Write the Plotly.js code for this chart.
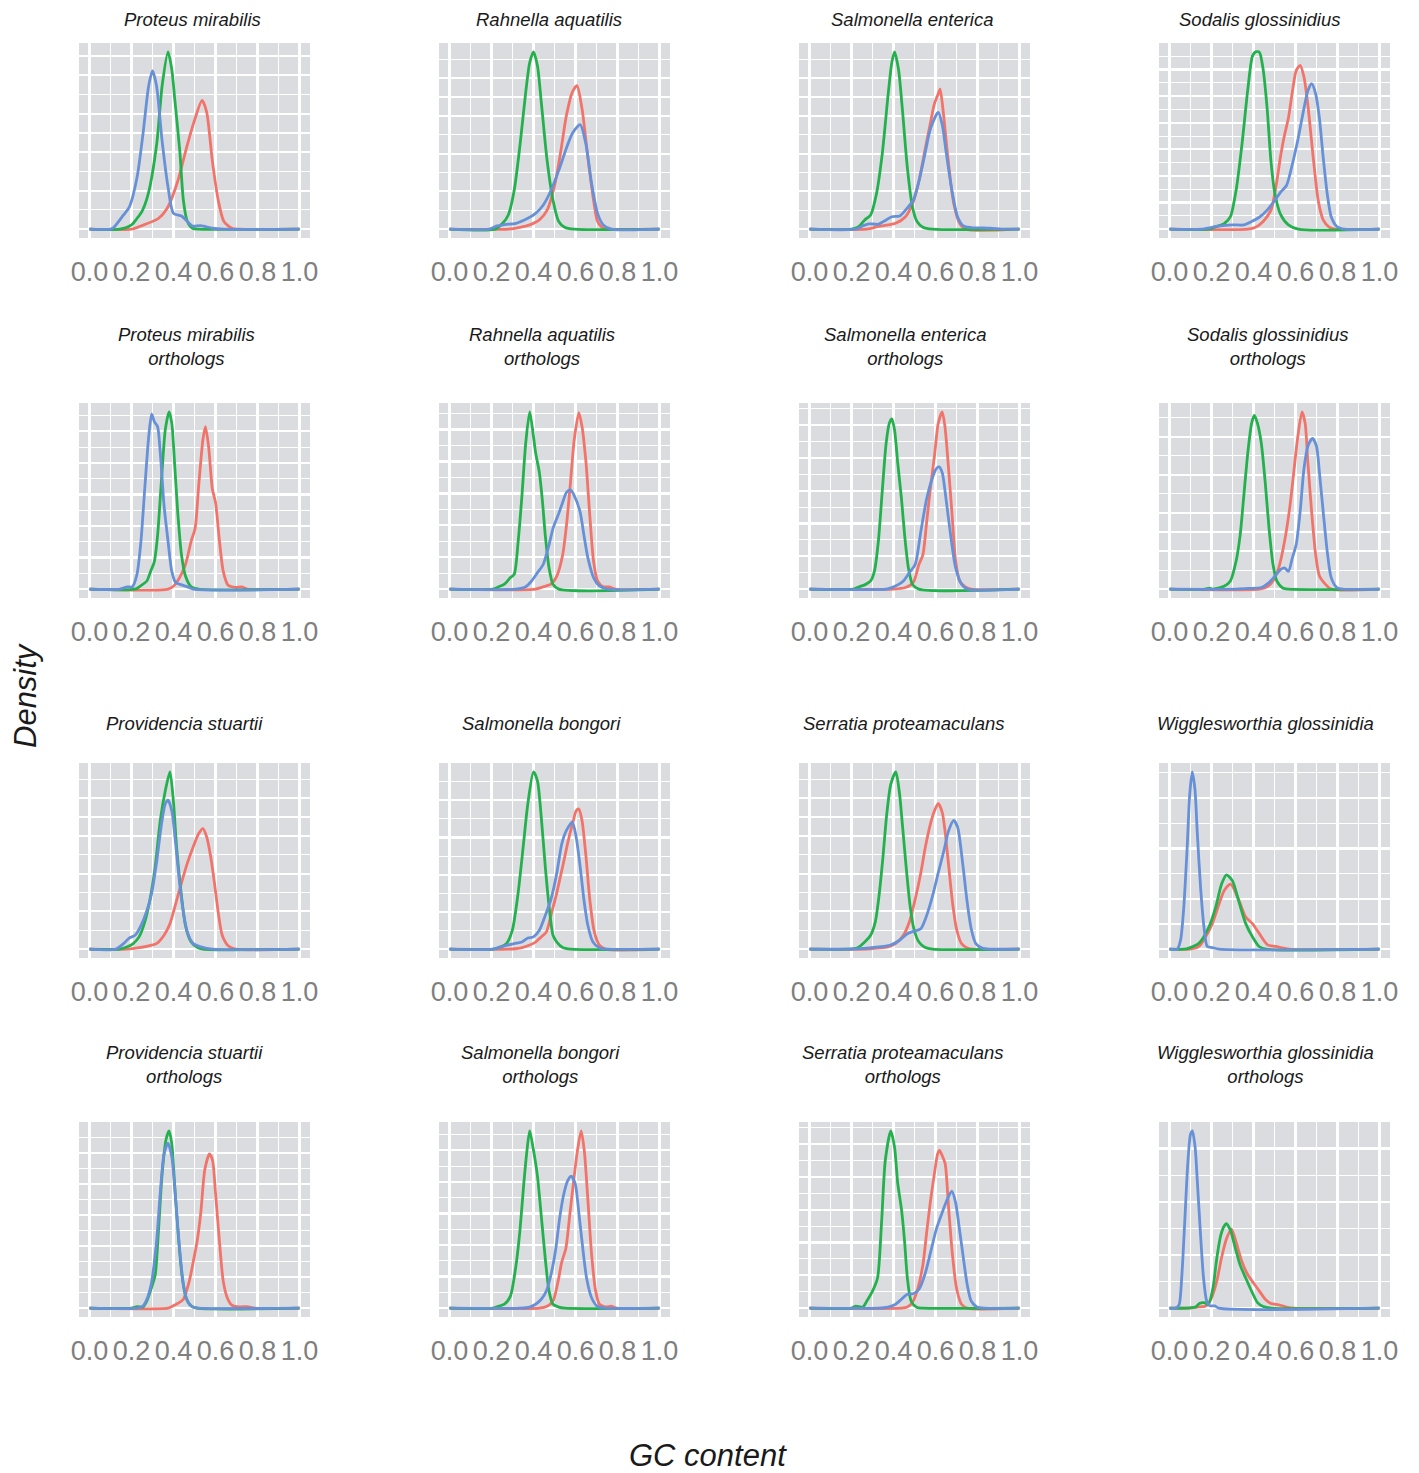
<!DOCTYPE html>
<html>
<head>
<meta charset="utf-8">
<script src="https://cdn.plot.ly/plotly-3.0.1.min.js"></script>
<style>html,body{margin:0;padding:0;background:#fff;}#chart{width:1419px;height:1473px;}</style>
</head>
<body>
<div id="chart"></div>
<script>
// ---------------- DATA ----------------
// GC content (x) vs relative density height (y, fraction of each panel's tallest peak)
const seriesNames = ['Group 1', 'Group 2', 'Group 3'];
const xTickVals = [0, 0.2, 0.4, 0.6, 0.8, 1.0];
const xTickText = ['0.0', '0.2', '0.4', '0.6', '0.8', '1.0'];

const panelTitles = [
  'Proteus mirabilis', 'Rahnella aquatilis', 'Salmonella enterica', 'Sodalis glossinidius',
  'Proteus mirabilis<br>orthologs', 'Rahnella aquatilis<br>orthologs', 'Salmonella enterica<br>orthologs', 'Sodalis glossinidius<br>orthologs',
  'Providencia stuartii', 'Salmonella bongori', 'Serratia proteamaculans', 'Wigglesworthia glossinidia',
  'Providencia stuartii<br>orthologs', 'Salmonella bongori<br>orthologs', 'Serratia proteamaculans<br>orthologs', 'Wigglesworthia glossinidia<br>orthologs'
];

// Proteus mirabilis
const pm_r = [[0,0],[0.2,0],[0.245,0.018],[0.328,0.06],[0.374,0.126],[0.42,0.27],[0.466,0.477],[0.503,0.625],[0.536,0.726],[0.558,0.66],[0.585,0.385],[0.613,0.163],[0.64,0.043],[0.678,0.005],[0.715,0],[1,0]];
const pm_g = [[0,0],[0.144,0],[0.2,0.024],[0.226,0.06],[0.25,0.1],[0.28,0.2],[0.32,0.48],[0.346,0.81],[0.374,1],[0.392,0.9],[0.405,0.745],[0.43,0.44],[0.447,0.163],[0.466,0.043],[0.49,0.005],[0.52,0],[1,0]];
const pm_b = [[0,0],[0.1,0],[0.116,0.01],[0.162,0.08],[0.19,0.126],[0.226,0.29],[0.254,0.53],[0.282,0.81],[0.3,0.893],[0.319,0.81],[0.346,0.495],[0.374,0.237],[0.4,0.089],[0.438,0.074],[0.466,0.043],[0.49,0.018],[0.53,0.02],[0.585,0.005],[0.64,0],[1,0]];
// Rahnella aquatilis
const ra_r = [[0,0],[0.28,0],[0.336,0.01],[0.382,0.024],[0.428,0.052],[0.465,0.107],[0.502,0.255],[0.53,0.44],[0.557,0.643],[0.585,0.773],[0.607,0.81],[0.631,0.68],[0.659,0.403],[0.686,0.163],[0.705,0.043],[0.732,0.005],[0.76,0],[1,0]];
const ra_g = [[0,0],[0.216,0],[0.253,0.033],[0.28,0.08],[0.308,0.218],[0.336,0.477],[0.363,0.773],[0.382,0.94],[0.4,1],[0.419,0.92],[0.437,0.717],[0.465,0.385],[0.493,0.163],[0.52,0.043],[0.548,0.011],[0.594,0],[1,0]];
const ra_b = [[0,0],[0.188,0],[0.225,0.018],[0.262,0.026],[0.317,0.033],[0.373,0.061],[0.41,0.089],[0.446,0.135],[0.483,0.218],[0.52,0.33],[0.557,0.458],[0.585,0.54],[0.622,0.59],[0.65,0.477],[0.677,0.255],[0.705,0.089],[0.732,0.024],[0.77,0],[1,0]];
// Salmonella enterica
const se_r = [[0,0],[0.273,0],[0.328,0.015],[0.374,0.024],[0.41,0.033],[0.457,0.07],[0.494,0.153],[0.521,0.27],[0.549,0.44],[0.577,0.606],[0.595,0.708],[0.613,0.763],[0.622,0.79],[0.637,0.66],[0.659,0.403],[0.687,0.144],[0.715,0.033],[0.742,0],[1,0]];
const se_g = [[0,0],[0.2,0],[0.236,0.015],[0.263,0.052],[0.291,0.08],[0.319,0.2],[0.346,0.42],[0.374,0.754],[0.392,0.94],[0.405,1],[0.424,0.9],[0.442,0.68],[0.466,0.347],[0.49,0.126],[0.512,0.043],[0.54,0.011],[0.586,0],[1,0]];
const se_b = [[0,0],[0.217,0],[0.254,0.018],[0.282,0.03],[0.328,0.028],[0.365,0.052],[0.392,0.07],[0.429,0.074],[0.457,0.107],[0.494,0.163],[0.521,0.27],[0.549,0.42],[0.577,0.57],[0.613,0.658],[0.632,0.59],[0.65,0.44],[0.678,0.218],[0.705,0.07],[0.733,0.018],[0.77,0.009],[0.807,0.007],[0.862,0.005],[0.917,0],[1,0]];
// Sodalis glossinidius
const sg_r = [[0,0],[0.373,0],[0.41,0.011],[0.446,0.043],[0.483,0.107],[0.511,0.27],[0.53,0.42],[0.548,0.532],[0.566,0.625],[0.585,0.773],[0.603,0.893],[0.622,0.924],[0.64,0.86],[0.659,0.7],[0.686,0.385],[0.708,0.163],[0.732,0.052],[0.76,0.011],[0.788,0],[1,0]];
const sg_g = [[0,0],[0.188,0],[0.225,0.015],[0.262,0.033],[0.29,0.07],[0.317,0.218],[0.345,0.477],[0.373,0.79],[0.395,0.976],[0.41,1],[0.428,0.998],[0.446,0.9],[0.465,0.68],[0.483,0.385],[0.502,0.2],[0.53,0.08],[0.566,0.024],[0.613,0],[1,0]];
const sg_b = [[0,0],[0.151,0],[0.225,0.015],[0.3,0.024],[0.354,0.024],[0.391,0.043],[0.428,0.067],[0.465,0.107],[0.502,0.163],[0.53,0.21],[0.557,0.246],[0.585,0.366],[0.613,0.514],[0.64,0.68],[0.659,0.78],[0.677,0.82],[0.696,0.763],[0.714,0.625],[0.732,0.403],[0.751,0.2],[0.77,0.07],[0.797,0.015],[0.834,0],[1,0]];
// Proteus mirabilis orthologs
const pmo_r = [[0,0],[0.374,0],[0.401,0.018],[0.429,0.065],[0.457,0.139],[0.484,0.27],[0.503,0.343],[0.52,0.583],[0.54,0.843],[0.552,0.917],[0.567,0.806],[0.585,0.565],[0.6,0.49],[0.619,0.27],[0.637,0.1],[0.66,0.022],[0.696,0.01],[0.724,0.013],[0.751,0],[1,0]];
const pmo_g = [[0,0],[0.217,0],[0.245,0.02],[0.273,0.046],[0.291,0.1],[0.309,0.157],[0.324,0.3],[0.343,0.62],[0.361,0.9],[0.379,1],[0.392,0.935],[0.405,0.713],[0.42,0.435],[0.438,0.194],[0.457,0.074],[0.484,0.013],[0.52,0],[1,0]];
const pmo_b = [[0,0],[0.144,0],[0.18,0.013],[0.204,0.013],[0.226,0.083],[0.245,0.27],[0.263,0.565],[0.282,0.86],[0.296,0.987],[0.309,0.944],[0.324,0.917],[0.337,0.77],[0.355,0.472],[0.374,0.27],[0.392,0.1],[0.41,0.037],[0.438,0.024],[0.466,0.013],[0.494,0],[1,0]];
// Rahnella aquatilis orthologs
const rao_r = [[0,0],[0.41,0],[0.446,0.013],[0.483,0.028],[0.511,0.074],[0.539,0.194],[0.557,0.36],[0.576,0.6],[0.594,0.843],[0.616,0.996],[0.631,0.917],[0.65,0.713],[0.668,0.417],[0.686,0.157],[0.705,0.046],[0.732,0.013],[0.76,0.013],[0.788,0],[1,0]];
const rao_g = [[0,0],[0.207,0],[0.234,0.013],[0.262,0.028],[0.29,0.065],[0.308,0.083],[0.327,0.27],[0.345,0.528],[0.363,0.824],[0.382,1],[0.4,0.86],[0.41,0.77],[0.428,0.657],[0.443,0.49],[0.456,0.305],[0.474,0.12],[0.493,0.028],[0.52,0],[1,0]];
const rao_b = [[0,0],[0.317,0],[0.363,0.013],[0.391,0.046],[0.419,0.093],[0.446,0.139],[0.474,0.25],[0.493,0.343],[0.52,0.426],[0.539,0.49],[0.557,0.546],[0.576,0.56],[0.594,0.528],[0.622,0.435],[0.64,0.305],[0.659,0.176],[0.686,0.065],[0.714,0.018],[0.751,0],[1,0]];
// Salmonella enterica orthologs
const seo_r = [[0,0],[0.401,0],[0.457,0.009],[0.494,0.037],[0.521,0.139],[0.54,0.194],[0.558,0.38],[0.577,0.583],[0.595,0.75],[0.613,0.935],[0.632,1],[0.645,0.917],[0.66,0.713],[0.678,0.435],[0.696,0.157],[0.715,0.046],[0.742,0.013],[0.77,0],[1,0]];
const seo_g = [[0,0],[0.208,0],[0.236,0.013],[0.263,0.024],[0.291,0.046],[0.309,0.1],[0.328,0.27],[0.346,0.546],[0.365,0.824],[0.38,0.935],[0.392,0.96],[0.405,0.898],[0.42,0.713],[0.438,0.51],[0.453,0.305],[0.471,0.12],[0.49,0.028],[0.52,0],[1,0]];
const seo_b = [[0,0],[0.365,0],[0.392,0.009],[0.42,0.024],[0.447,0.046],[0.475,0.093],[0.503,0.139],[0.53,0.324],[0.558,0.51],[0.586,0.63],[0.604,0.68],[0.617,0.69],[0.632,0.657],[0.65,0.51],[0.674,0.287],[0.696,0.12],[0.724,0.028],[0.751,0],[1,0]];
// Sodalis glossinidius orthologs
const sgo_r = [[0,0],[0.428,0],[0.465,0.013],[0.493,0.046],[0.52,0.12],[0.548,0.27],[0.572,0.454],[0.59,0.639],[0.609,0.843],[0.631,1],[0.646,0.935],[0.659,0.713],[0.677,0.435],[0.696,0.194],[0.714,0.074],[0.742,0.028],[0.77,0],[1,0]];
const sgo_g = [[0,0],[0.17,0],[0.188,0.006],[0.205,0],[0.225,0.004],[0.262,0.018],[0.29,0.046],[0.317,0.157],[0.336,0.3],[0.354,0.528],[0.373,0.77],[0.391,0.935],[0.404,0.98],[0.419,0.935],[0.437,0.824],[0.456,0.6],[0.474,0.343],[0.493,0.139],[0.511,0.046],[0.539,0.006],[0.566,0],[1,0]];
const sgo_b = [[0,0],[0.317,0],[0.373,0.004],[0.437,0.009],[0.474,0.037],[0.502,0.074],[0.53,0.111],[0.548,0.12],[0.566,0.1],[0.585,0.176],[0.603,0.25],[0.622,0.435],[0.64,0.676],[0.659,0.806],[0.681,0.85],[0.7,0.806],[0.714,0.657],[0.732,0.435],[0.751,0.213],[0.77,0.065],[0.797,0.009],[0.825,0],[1,0]];
// Providencia stuartii
const ps_r = [[0,0],[0.18,0],[0.236,0.008],[0.282,0.019],[0.319,0.031],[0.355,0.078],[0.383,0.143],[0.41,0.254],[0.438,0.374],[0.466,0.485],[0.494,0.578],[0.52,0.652],[0.54,0.68],[0.558,0.633],[0.577,0.522],[0.595,0.374],[0.613,0.207],[0.632,0.078],[0.66,0.019],[0.696,0],[1,0]];
const ps_g = [[0,0],[0.144,0],[0.18,0.013],[0.208,0.031],[0.236,0.069],[0.263,0.152],[0.291,0.3],[0.313,0.467],[0.337,0.726],[0.361,0.893],[0.383,1],[0.398,0.856],[0.416,0.56],[0.438,0.3],[0.457,0.133],[0.484,0.04],[0.512,0.011],[0.54,0],[1,0]];
const ps_b = [[0,0],[0.125,0],[0.162,0.031],[0.19,0.063],[0.217,0.078],[0.245,0.133],[0.273,0.217],[0.295,0.31],[0.319,0.485],[0.343,0.707],[0.361,0.82],[0.374,0.84],[0.392,0.78],[0.41,0.596],[0.429,0.374],[0.447,0.207],[0.466,0.096],[0.494,0.031],[0.53,0.013],[0.586,0],[1,0]];
// Salmonella bongori
const sb_r = [[0,0],[0.28,0],[0.336,0.006],[0.373,0.019],[0.41,0.04],[0.437,0.069],[0.461,0.096],[0.483,0.19],[0.511,0.319],[0.539,0.467],[0.566,0.615],[0.59,0.726],[0.603,0.78],[0.616,0.79],[0.631,0.726],[0.65,0.522],[0.668,0.28],[0.69,0.096],[0.714,0.022],[0.742,0],[1,0]];
const sb_g = [[0,0],[0.207,0],[0.244,0.013],[0.271,0.031],[0.299,0.106],[0.327,0.319],[0.351,0.578],[0.373,0.82],[0.4,1],[0.419,0.948],[0.437,0.744],[0.456,0.467],[0.474,0.244],[0.493,0.078],[0.511,0.04],[0.539,0.009],[0.576,0],[1,0]];
const sb_b = [[0,0],[0.207,0],[0.262,0.019],[0.308,0.031],[0.345,0.04],[0.373,0.063],[0.4,0.069],[0.428,0.106],[0.456,0.19],[0.483,0.28],[0.511,0.43],[0.535,0.596],[0.557,0.67],[0.585,0.717],[0.603,0.633],[0.622,0.467],[0.64,0.28],[0.659,0.133],[0.683,0.04],[0.714,0.007],[0.751,0],[1,0]];
// Serratia proteamaculans
const sp_r = [[0,0],[0.273,0],[0.328,0.006],[0.374,0.013],[0.41,0.031],[0.447,0.078],[0.475,0.152],[0.503,0.28],[0.53,0.43],[0.552,0.578],[0.576,0.707],[0.595,0.78],[0.613,0.822],[0.632,0.772],[0.645,0.67],[0.663,0.467],[0.681,0.263],[0.7,0.115],[0.724,0.031],[0.751,0.007],[0.779,0],[1,0]];
const sp_g = [[0,0],[0.18,0],[0.227,0.006],[0.263,0.04],[0.291,0.078],[0.313,0.152],[0.331,0.3],[0.35,0.522],[0.368,0.763],[0.387,0.93],[0.411,1],[0.429,0.874],[0.442,0.707],[0.46,0.467],[0.479,0.244],[0.497,0.115],[0.521,0.04],[0.549,0.011],[0.586,0],[1,0]];
const sp_b = [[0,0],[0.18,0],[0.273,0.006],[0.328,0.013],[0.383,0.022],[0.429,0.05],[0.466,0.087],[0.494,0.1],[0.53,0.115],[0.558,0.19],[0.586,0.3],[0.613,0.43],[0.641,0.56],[0.663,0.67],[0.687,0.726],[0.705,0.689],[0.714,0.633],[0.733,0.448],[0.751,0.263],[0.77,0.115],[0.792,0.031],[0.825,0.004],[0.862,0],[1,0]];
// Wigglesworthia glossinidia
const wg_r = [[0,0],[0.1,0],[0.14,0.015],[0.172,0.07],[0.204,0.144],[0.236,0.255],[0.26,0.33],[0.291,0.367],[0.331,0.274],[0.363,0.181],[0.395,0.144],[0.427,0.089],[0.467,0.024],[0.506,0.015],[0.57,0],[1,0]];
const wg_g = [[0,0],[0.07,0],[0.092,0.006],[0.14,0.033],[0.188,0.126],[0.22,0.237],[0.248,0.367],[0.271,0.419],[0.3,0.385],[0.331,0.265],[0.363,0.144],[0.395,0.07],[0.427,0.015],[0.46,0],[1,0]];
const wg_b = [[0,0],[0.037,0],[0.053,0.052],[0.068,0.237],[0.084,0.57],[0.096,0.867],[0.108,1],[0.121,0.904],[0.132,0.663],[0.148,0.348],[0.164,0.126],[0.18,0.015],[0.204,0.009],[0.236,0],[1,0]];
// Providencia stuartii orthologs
const pso_r = [[0,0],[0.374,0],[0.392,0.009],[0.42,0.026],[0.447,0.05],[0.475,0.151],[0.494,0.262],[0.512,0.373],[0.53,0.539],[0.549,0.78],[0.571,0.87],[0.586,0.834],[0.6,0.65],[0.619,0.373],[0.637,0.151],[0.656,0.059],[0.678,0.017],[0.715,0.007],[0.751,0.009],[0.788,0],[1,0]];
const pso_g = [[0,0],[0.199,0],[0.227,0.009],[0.254,0.006],[0.273,0.04],[0.295,0.114],[0.313,0.188],[0.328,0.428],[0.346,0.76],[0.365,0.954],[0.379,1],[0.392,0.926],[0.405,0.705],[0.424,0.391],[0.442,0.17],[0.46,0.059],[0.484,0.013],[0.512,0],[1,0]];
const pso_b = [[0,0],[0.227,0],[0.254,0.011],[0.273,0.05],[0.295,0.142],[0.319,0.373],[0.337,0.65],[0.355,0.87],[0.374,0.93],[0.392,0.852],[0.41,0.613],[0.429,0.336],[0.447,0.133],[0.466,0.04],[0.49,0.007],[0.52,0],[1,0]];
// Salmonella bongori orthologs
const sbo_r = [[0,0],[0.428,0],[0.465,0.011],[0.493,0.04],[0.517,0.151],[0.535,0.262],[0.554,0.336],[0.572,0.518],[0.59,0.705],[0.609,0.887],[0.627,1],[0.642,0.887],[0.659,0.61],[0.677,0.297],[0.696,0.096],[0.714,0.022],[0.742,0.007],[0.77,0.011],[0.797,0],[1,0]];
const sbo_g = [[0,0],[0.207,0],[0.234,0.011],[0.262,0.022],[0.29,0.068],[0.317,0.244],[0.336,0.446],[0.354,0.705],[0.369,0.89],[0.382,1],[0.4,0.89],[0.419,0.742],[0.437,0.52],[0.456,0.28],[0.474,0.096],[0.493,0.022],[0.52,0.006],[0.548,0],[1,0]];
const sbo_b = [[0,0],[0.336,0],[0.382,0.006],[0.41,0.022],[0.437,0.05],[0.461,0.096],[0.483,0.188],[0.506,0.334],[0.524,0.502],[0.542,0.631],[0.561,0.714],[0.579,0.745],[0.598,0.705],[0.616,0.537],[0.635,0.334],[0.653,0.168],[0.677,0.057],[0.705,0.009],[0.742,0],[1,0]];
// Serratia proteamaculans orthologs
const spo_r = [[0,0],[0.438,0],[0.466,0.006],[0.49,0.031],[0.512,0.096],[0.54,0.244],[0.558,0.428],[0.577,0.613],[0.595,0.76],[0.61,0.87],[0.619,0.89],[0.632,0.86],[0.646,0.815],[0.663,0.557],[0.681,0.297],[0.7,0.114],[0.724,0.022],[0.751,0],[1,0]];
const spo_g = [[0,0],[0.199,0],[0.221,0.011],[0.254,0.006],[0.273,0.04],[0.3,0.096],[0.324,0.17],[0.343,0.48],[0.361,0.834],[0.387,1],[0.405,0.908],[0.42,0.705],[0.438,0.557],[0.453,0.373],[0.466,0.17],[0.484,0.04],[0.512,0.004],[0.54,0],[1,0]];
const spo_b = [[0,0],[0.328,0],[0.374,0.006],[0.41,0.022],[0.438,0.05],[0.466,0.078],[0.494,0.081],[0.521,0.105],[0.549,0.188],[0.577,0.317],[0.604,0.446],[0.632,0.54],[0.659,0.622],[0.678,0.66],[0.696,0.594],[0.714,0.446],[0.733,0.28],[0.751,0.133],[0.77,0.04],[0.797,0.007],[0.834,0],[1,0]];
// Wigglesworthia glossinidia orthologs
const wgo_r = [[0,0],[0.096,0],[0.133,0.006],[0.17,0.011],[0.197,0.05],[0.225,0.151],[0.247,0.28],[0.271,0.39],[0.295,0.446],[0.317,0.373],[0.345,0.262],[0.373,0.188],[0.4,0.142],[0.428,0.096],[0.456,0.05],[0.483,0.026],[0.52,0.019],[0.557,0.006],[0.594,0],[1,0]];
const wgo_g = [[0,0],[0.077,0],[0.124,0.006],[0.142,0.026],[0.166,0.031],[0.185,0.02],[0.207,0.114],[0.225,0.28],[0.244,0.41],[0.258,0.458],[0.271,0.476],[0.29,0.44],[0.314,0.336],[0.336,0.244],[0.363,0.17],[0.391,0.096],[0.419,0.031],[0.446,0.009],[0.483,0],[1,0]];
const wgo_b = [[0,0],[0.031,0],[0.046,0.02],[0.059,0.188],[0.074,0.52],[0.087,0.815],[0.1,0.98],[0.109,1],[0.122,0.908],[0.133,0.705],[0.148,0.41],[0.162,0.17],[0.177,0.04],[0.192,0.013],[0.216,0.013],[0.234,0],[1,0]];

const panelCurves = [
  [pm_r, pm_g, pm_b], [ra_r, ra_g, ra_b], [se_r, se_g, se_b], [sg_r, sg_g, sg_b],
  [pmo_r, pmo_g, pmo_b], [rao_r, rao_g, rao_b], [seo_r, seo_g, seo_b], [sgo_r, sgo_g, sgo_b],
  [ps_r, ps_g, ps_b], [sb_r, sb_g, sb_b], [sp_r, sp_g, sp_b], [wg_r, wg_g, wg_b],
  [pso_r, pso_g, pso_b], [sbo_r, sbo_g, sbo_b], [spo_r, spo_g, spo_b], [wgo_r, wgo_g, wgo_b]
];
// spacing of major horizontal grid lines (in each panel's relative density units)
const panelGridStep = [0.217, 0.213, 0.213, 0.15, 0.178, 0.18, 0.185, 0.215, 0.213, 0.21, 0.213, 0.284, 0.175, 0.178, 0.185, 0.3];

// ---------------- STYLE / LAYOUT ----------------
const W = 1419, H = 1473;
const colors = ['#F2736A', '#22B14C', '#6690D8'];
const FONT = 'Liberation Sans, Arial, Helvetica, sans-serif';
const panelLeft0 = 79, panelW = 231, colPitch = 360;
const rowTops = [43, 403, 763, 1122], panelH = 195;
const titlePos = [
  [192, 20], [548.5, 20], [911.5, 20], [1259, 20],
  [186, 346], [541.5, 346], [904.5, 346], [1267, 346],
  [184.5, 723], [541, 723], [903.5, 723], [1265.5, 723],
  [184.5, 1064], [540.5, 1064], [903, 1064], [1265.5, 1064]
];

const traces = [];
const layout = {
  width: W, height: H,
  margin: {l: 0, r: 0, t: 0, b: 0},
  paper_bgcolor: '#ffffff',
  plot_bgcolor: '#DBDCDF',
  showlegend: false,
  annotations: []
};

panelCurves.forEach((curves, i) => {
  const c = i % 4, r = Math.floor(i / 4);
  const n = i === 0 ? '' : String(i + 1);
  curves.forEach((pts, k) => {
    traces.push({
      type: 'scatter', mode: 'lines', name: seriesNames[k],
      x: pts.map(p => p[0]), y: pts.map(p => p[1]),
      xaxis: 'x' + n, yaxis: 'y' + n,
      line: {color: colors[k], width: 2.8, shape: 'spline', smoothing: 0.7},
      hoverinfo: 'skip'
    });
  });
  const x0 = (panelLeft0 + colPitch * c) / W, x1 = (panelLeft0 + colPitch * c + panelW) / W;
  const yTop = rowTops[r], yBot = rowTops[r] + panelH;
  layout['xaxis' + n] = {
    domain: [x0, x1], anchor: 'y' + n, range: [-0.05, 1.05],
    tickvals: xTickVals, ticktext: xTickText,
    showgrid: true, gridcolor: '#ffffff', gridwidth: 2.2,
    minor: {dtick: 0.1, tick0: 0, showgrid: true, gridcolor: '#ffffff', gridwidth: 1.1, ticks: ''},
    zeroline: false, showline: false, ticks: '',
    ticklabelstandoff: 15,
    tickfont: {family: FONT, size: 27, color: '#7F7F7F'},
    fixedrange: true
  };
  const step = panelGridStep[i];
  layout['yaxis' + n] = {
    domain: [1 - yBot / H, 1 - yTop / H], anchor: 'x' + n, range: [-0.05, 1.05],
    tick0: 0, dtick: step, showticklabels: false,
    showgrid: true, gridcolor: '#ffffff', gridwidth: 2.2,
    minor: {dtick: step / 2, tick0: 0, showgrid: true, gridcolor: '#ffffff', gridwidth: 1.1, ticks: ''},
    zeroline: false, showline: false, ticks: '', fixedrange: true
  };
  layout.annotations.push({
    text: panelTitles[i], xref: 'paper', yref: 'paper',
    x: titlePos[i][0] / W, y: 1 - titlePos[i][1] / H,
    xanchor: 'center', yanchor: 'middle', showarrow: false, align: 'center',
    font: {family: FONT, size: 18.5, color: '#1A1A1A', style: 'italic'}
  });
});

layout.annotations.push({
  text: 'Density', xref: 'paper', yref: 'paper', x: 25 / W, y: 1 - 695 / H,
  xanchor: 'center', yanchor: 'middle', showarrow: false, textangle: -90,
  font: {family: FONT, size: 31, color: '#1A1A1A', style: 'italic'}
});
layout.annotations.push({
  text: 'GC content', xref: 'paper', yref: 'paper', x: 708 / W, y: 1 - 1455 / H,
  xanchor: 'center', yanchor: 'middle', showarrow: false,
  font: {family: FONT, size: 31, color: '#1A1A1A', style: 'italic'}
});

Plotly.newPlot('chart', traces, layout, {displayModeBar: false, staticPlot: true});
</script>
</body>
</html>
